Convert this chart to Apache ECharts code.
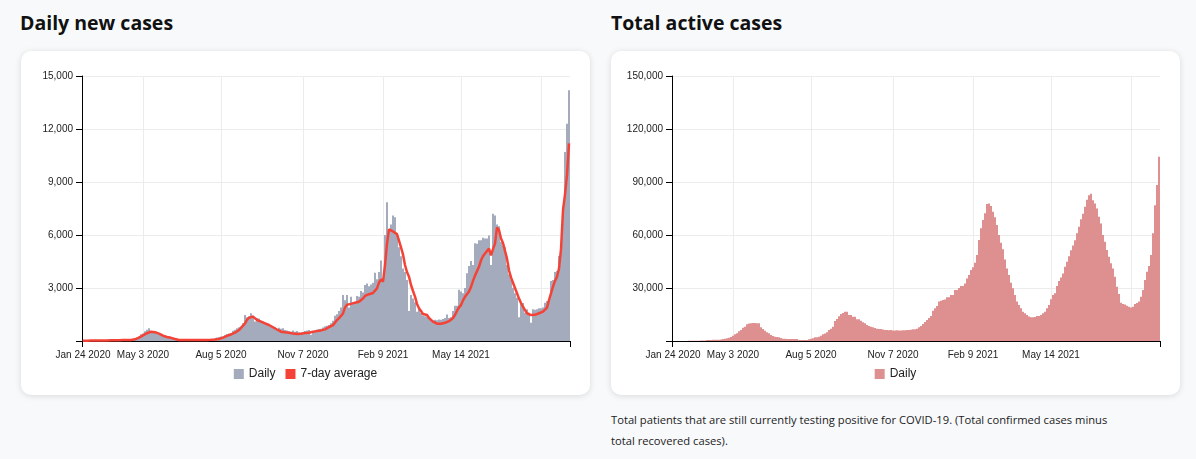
<!DOCTYPE html>
<html>
<head>
<meta charset="utf-8">
<script src="https://cdn.jsdelivr.net/npm/echarts@6/dist/echarts.min.js"></script>
<style>
  html, body { margin: 0; padding: 0; }
  body { width: 1196px; height: 459px; position: relative; overflow: hidden; background: #f8f9fb; font-family: 'Open Sans', 'Noto Sans', sans-serif; }
  .title { position: absolute; top: 9px; font-size: 19.5px; font-weight: 700; color: #111; line-height: 27px; white-space: nowrap; }
  .card { position: absolute; top: 51px; width: 569px; height: 344px; background: #fff; border-radius: 10px; box-shadow: 0 1px 6px rgba(0,0,0,0.13); }
  .desc { position: absolute; left: 611px; top: 409px; font-size: 11.2px; line-height: 21.4px; color: #222; white-space: nowrap; }
</style>
</head>
<body>
<div class="title" style="left:20px">Daily new cases</div>
<div class="title" style="left:611px">Total active cases</div>
<div class="card" id="c1" style="left:21px"></div>
<div class="card" id="c2" style="left:611px"></div>
<div class="desc">Total patients that are still currently testing positive for COVID-19. (Total confirmed cases minus<br>total recovered cases).</div>
<script>
// ---- tick labels on the time axis (category index -> label) ----
const tickLabels = ['Jan 24 2020', 'May 3 2020', 'Aug 5 2020', 'Nov 7 2020', 'Feb 9 2021', 'May 14 2021'];
const tickIndex  = [0, 30, 69, 110, 150, 189];
const gridIndex  = [30, 69, 110, 150, 189, 229];

// ---- daily new cases (bars) ----
const dailyCases = [
  10,10,15,10,20,15,20,25,30,25, 30,35,40,30,45,40,50,45,60,55,
  50,60,65,70,80,90,150,200,250,380, 430,550,640,720,560,560,530,480,420,380,
  330,280,240,200,170,130,110,80,70,60, 50,45,50,40,45,50,45,55,50,60,
  60,60,70,80,90,100,150,200,230,250, 260,320,400,420,450,580,640,720,780,810,
  1000,1470,1350,1380,1570,1450,1100,1300,1280,1150, 1100,1050,950,900,880,850,780,680,750,700,
  720,620,600,550,520,600,530,560,500,480, 500,560,600,620,350,550,600,650,680,700,
  760,830,860,900,1000,1150,1430,1510,1700,1890, 2600,2300,2600,1900,2500,2150,2200,2550,2500,2830,
  2750,3170,3260,3100,3200,3300,3870,3500,3900,4550, 3400,6000,7850,6300,6600,7100,7000,6100,5300,4800,
  4100,3900,3450,1700,2600,2400,2200,1660,1870,1580, 1450,1400,1380,1300,1190,1150,1200,1180,1220,1200,
  1250,1300,1500,1300,1350,1700,2000,2000,2900,2800, 2700,3000,3830,4240,4530,4300,5530,5500,5700,5700,
  5850,5800,5800,5970,4300,7200,7100,6600,6500,5600, 5400,5300,4300,3780,3500,3020,2700,2450,1350,2160,
  2150,1600,1800,1600,1040,1800,1770,1800,1850,1850, 1900,2160,2260,2320,3400,3450,3900,3960,4810,5050,
  7600,10700,12300,14200
];

// ---- 7-day average (line) ----
const sevenDayAvg = [
  20,20,20,20,25,25,25,30,30,30, 30,35,35,35,40,40,40,45,45,50,
  50,50,55,60,60,65,95,130,190,246, 320,380,440,500,530,520,500,470,420,340,
  300,260,230,200,180,140,110,90,60,58, 55,55,55,55,55,55,55,55,55,55,
  58,60,60,62,65,70,80,95,113,150, 190,246,290,340,370,400,470,540,620,740,
  870,1000,1200,1320,1370,1380,1300,1190,1150,1100, 1040,1000,950,906,850,780,717,650,580,530,
  520,500,480,472,450,430,410,400,396,410, 430,450,460,470,500,520,540,560,566,600,
  630,660,720,780,840,900,1000,1185,1300,1420, 1560,1900,2050,2070,2100,2130,2170,2200,2220,2250,
  2400,2550,2600,2650,2700,2720,2850,2980,3300,3490, 3360,4300,5500,6320,6380,6200,6130,6050,6000,5300,
  4900,4300,3900,3640,3170,2830,2510,2100,1850,1700, 1530,1500,1470,1300,1190,1100,1000,980,960,980,
  1000,1030,1060,1120,1190,1300,1470,1700,1900,2030, 2300,2500,2600,2800,3060,3400,3700,3810,4200,4570,
  4800,4950,5040,5230,4850,5200,5510,6430,6280,5800, 5550,5100,4660,4000,3600,3300,3000,2700,2400,2150,
  1940,1750,1570,1500,1470,1470,1480,1500,1570,1600, 1660,1750,1890,2320,2700,3080,3400,3640,4100,5200,
  7400,8300,9400,11190
];

// ---- total active cases (bars) ----
const activeCases = [
  10,20,20,30,30,40,50,60,80,100, 120,150,180,200,250,300,350,600,600,620,
  650,680,700,750,800,1100,1320,1500,1890,2300, 3020,3800,4340,5500,6230,7500,8110,9430,9900,10100,
  10200,10150,10000,10000,7740,6800,5850,4900,4340,3400, 2900,2450,2200,2080,1700,1320,1320,1130,1130,1130,
  1130,1130,1130,600,566,566,566,600,1000,1320, 1600,2080,2100,2450,3000,3770,4300,4900,6230,7000,
  8110,11320,12500,14000,15280,15800,16600,16600,14700,14700, 13770,13770,12260,12260,11500,10570,10000,9050,8500,8000,
  7740,7400,7000,6800,6790,6500,6230,6230,6100,6230, 6000,6000,6100,6000,6000,6100,6100,6230,6230,6300,
  6600,6600,7000,7740,8500,9620,10800,11880,13000,14150, 17170,18500,19810,22300,22800,23200,23500,24700,24700,26000,
  26000,28900,28900,30000,31100,31100,32600,35400,37300,40200, 41700,44300,48700,57100,63800,68500,72300,77500,77900,76400,
  73200,70000,65600,60000,55600,51900,46200,41100,37300,33000, 29800,26000,22300,20400,18500,16600,15700,14700,13800,13400,
  13400,13600,14200,14200,14700,15700,16600,18500,20400,23600, 26000,27000,31100,33900,36000,38200,42000,44800,48000,51400,
  54000,57000,61000,64600,68900,72000,76000,80000,82500,83400, 79700,77800,75000,70300,66500,60000,56200,51500,47700,44000,
  41100,36400,30700,26600,21700,21000,20700,20000,19400,18900, 19400,21000,21500,22300,25100,28900,34500,39200,42500,48700,
  61000,76900,88300,104300
];

const categories = dailyCases.map((_, i) => 'P' + i);
const labelFor = {};
tickIndex.forEach((idx, k) => { labelFor[categories[idx]] = tickLabels[k]; });

const AXIS_FONT = "'Liberation Sans', Arial, sans-serif";

function makeAxes(yMax, yInterval) {
  return {
    xAxis: {
      type: 'category',
      data: categories,
      boundaryGap: true,
      axisLine: { show: true, lineStyle: { color: '#000', width: 1 } },
      axisTick: { show: true, length: 6, interval: (i) => i === 0, lineStyle: { color: '#000' } },
      axisLabel: {
        interval: (i) => tickIndex.indexOf(i) >= 0,
        formatter: (v) => labelFor[v] || '',
        fontSize: 10, color: '#222', margin: 9, fontFamily: AXIS_FONT
      },
      splitLine: { show: true, alignWithLabel: true, interval: (i) => gridIndex.indexOf(i) >= 0, lineStyle: { color: '#ececec', width: 1 } }
    },
    yAxis: {
      type: 'value', min: 0, max: yMax, interval: yInterval,
      axisLine: { show: true, lineStyle: { color: '#000', width: 1 } },
      axisTick: { show: true, length: 6, lineStyle: { color: '#000' } },
      axisLabel: {
        fontSize: 10, color: '#222', margin: 9, fontFamily: AXIS_FONT,
        formatter: (v) => v === 0 ? '' : v.toLocaleString('en-US')
      },
      splitLine: { show: true, lineStyle: { color: '#ececec', width: 1 } }
    }
  };
}

const legendBase = {
  left: 'center', top: 312, icon: 'rect', itemWidth: 10, itemHeight: 10, itemGap: 10,
  textStyle: { fontSize: 12, color: '#222', fontFamily: AXIS_FONT }
};

const chart1 = echarts.init(document.getElementById('c1'), null, { renderer: 'canvas' });
const a1 = makeAxes(15000, 3000);
chart1.setOption({
  animation: false,
  grid: { left: 61, top: 25, width: 488, height: 265, containLabel: false },
  xAxis: a1.xAxis, yAxis: a1.yAxis,
  legend: Object.assign({ data: ['Daily', '7-day average'] }, legendBase),
  series: [
    { name: 'Daily', type: 'bar', data: dailyCases, barCategoryGap: '0%', itemStyle: { color: '#a4abbd' }, z: 2 },
    { name: '7-day average', type: 'line', data: sevenDayAvg, color: '#f44336', showSymbol: false, symbol: 'none',
      lineStyle: { color: '#f44336', width: 2.5 }, itemStyle: { color: '#f44336' }, z: 3 }
  ]
});

const chart2 = echarts.init(document.getElementById('c2'), null, { renderer: 'canvas' });
const a2 = makeAxes(150000, 30000);
chart2.setOption({
  animation: false,
  grid: { left: 61, top: 25, width: 488, height: 265, containLabel: false },
  xAxis: a2.xAxis, yAxis: a2.yAxis,
  legend: Object.assign({ data: ['Daily'] }, legendBase),
  series: [
    { name: 'Daily', type: 'bar', data: activeCases, barCategoryGap: '0%', itemStyle: { color: '#de8f8f' } }
  ]
});
</script>
</body>
</html>
